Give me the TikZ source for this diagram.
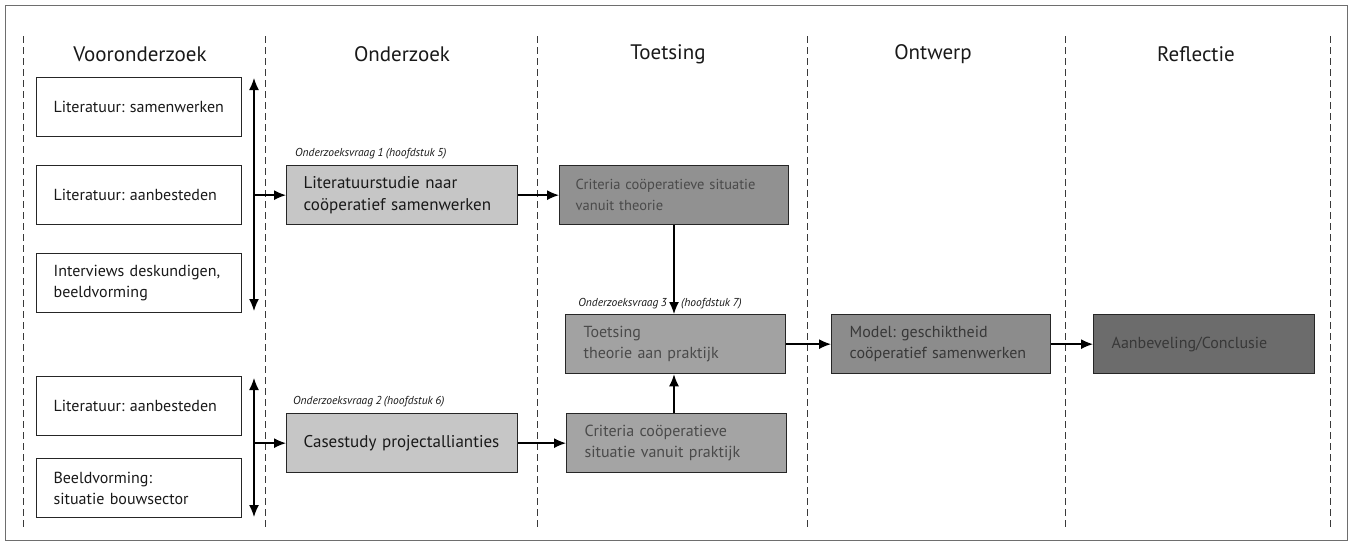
\documentclass[tikz,border=0pt]{standalone}
\usepackage{fontspec}
\setmainfont{PT Sans}[WordSpace=0.8]
\usetikzlibrary{arrows.meta}
\definecolor{framegray}{HTML}{6E6E6E}
\definecolor{dashgray}{HTML}{3A3A3A}
\definecolor{filllight}{HTML}{C6C6C6}
\definecolor{fillcrit}{HTML}{919191}
\definecolor{filltoets}{HTML}{A2A2A2}
\definecolor{fillprak}{HTML}{A4A4A4}
\definecolor{fillmodel}{HTML}{8C8C8C}
\definecolor{fillaanb}{HTML}{6C6C6C}
\definecolor{txtdim}{HTML}{4A4A4A}
\definecolor{txtdark}{HTML}{383838}
\hyphenpenalty=10000
\exhyphenpenalty=10000
\frenchspacing
\begin{document}
\begin{tikzpicture}[x=1pt,y=-1pt,
  heading/.style={font=\fontsize{21}{23}\selectfont, text=black!90, anchor=center},
  boxnode/.style={draw=black!85, line width=1.3pt, minimum height=59pt, inner xsep=16pt,
    inner ysep=2pt, align=left, anchor=north west, font=\fontsize{16}{21}\selectfont, text=black!90},
  bigtxt/.style={font=\fontsize{17}{22}\selectfont},
  rq/.style={font=\fontsize{11.5}{13}\selectfont\itshape, text=black!90, inner sep=0pt},
  divider/.style={dashgray, line width=0.8pt, dash pattern=on 7pt off 4pt},
  arr/.style={-{Latex[length=12pt,width=10pt]}, line width=1.4pt, black},
  dblarr/.style={{Latex[length=12pt,width=10pt]}-{Latex[length=12pt,width=10pt]}, line width=1.4pt, black}
]
\useasboundingbox (0,0) rectangle (1352,547);
\draw[framegray, line width=1pt] (5,5) rectangle (1347,540);

% column dividers
\foreach \xx/\nm in {23/d0,265/d1,537/d2,807/d3,1065/d4,1330/d5}{
  \coordinate (\nm t) at (\xx,36);
  \coordinate (\nm b) at (\xx,530);
  \draw[divider] (\nm t) -- (\nm b);
}

% headings
\node[heading] (h1) at (140,54) {Vooronderzoek};
\node[heading] (h2) at (402,54) {Onderzoek};
\node[heading] (h3) at (668,54) {Toetsing};
\node[heading] (h4) at (933,54) {Ontwerp};
\node[heading] (h5) at (1196,54) {Reflectie};

% left column boxes
\node[boxnode, inner xsep=17pt, text width=171pt] (b1) at (36,77) {Literatuur: samenwerken};
\node[boxnode, inner xsep=17pt, text width=171pt] (b2) at (36,165) {Literatuur: aanbesteden};
\node[boxnode, inner xsep=17pt, text width=171pt] (b3) at (36,253) {Interviews deskundigen,\\beeldvorming};
\node[boxnode, inner xsep=17pt, text width=171pt] (b4) at (36,376) {Literatuur: aanbesteden};
\node[boxnode, inner xsep=17pt, text width=171pt] (b5) at (36,458) {Beeldvorming:\\situatie bouwsector};

% research boxes
\node[boxnode, bigtxt, fill=filllight, inner xsep=17pt, text width=197pt] (lit) at (286,165) {Literatuurstudie naar\\coöperatief samenwerken};
\node[boxnode, bigtxt, fill=filllight, inner xsep=17pt, text width=197pt] (case) at (286,413) {Casestudy projectallianties};
\node[rq, anchor=base west] (rq1) at (295,156) {Onderzoeksvraag 1 (hoofdstuk 5)};
\node[rq, anchor=base west] (rq2) at (293,404) {Onderzoeksvraag 2 (hoofdstuk 6)};

% toetsing boxes
\node[boxnode, fill=fillcrit, text=txtdim, font=\fontsize{14.5}{21}\selectfont, inner xsep=16pt, text width=197pt] (crt) at (559,165) {Criteria coöperatieve situatie\\vanuit theorie};
\node[boxnode, fill=filltoets, text=txtdim, inner xsep=18pt, text width=184pt] (toets) at (565,314) {Toetsing\\theorie aan praktijk};
\node[boxnode, fill=fillprak, text=txtdim, inner xsep=18pt, text width=184pt] (crp) at (566,413) {Criteria coöperatieve\\situatie vanuit praktijk};

% design / reflection
\node[boxnode, fill=fillmodel, text=txtdark, inner xsep=18pt, text width=183pt] (model) at (831,314) {Model: geschiktheid\\coöperatief samenwerken};
\node[boxnode, fill=fillaanb, text=txtdark, inner xsep=18pt, text width=185pt] (aanb) at (1093,314) {Aanbeveling/Conclusie};

% left collector arrows
\coordinate (v1t) at (254,78);
\coordinate (v1b) at (254,311);
\coordinate (v2t) at (254,378);
\coordinate (v2b) at (254,517);
\draw[dblarr] (v1t) -- (v1b);
\draw[dblarr] (v2t) -- (v2b);
\coordinate (j1) at (lit.west -| v1t);
\coordinate (j2) at (case.west -| v2t);
\draw[arr] (j1) -- (lit.west);
\draw[arr] (j2) -- (case.west);

% flow arrows
\draw[arr] (lit.east) -- (crt.west);
\draw[arr] (case.east) -- (crp.west);
\coordinate (ct) at (674,0);
\draw[arr] (crt.south -| ct) -- (toets.north -| ct);
\draw[arr] (crp.north -| ct) -- (toets.south -| ct);
\draw[arr] (toets.east) -- (model.west);
\draw[arr] (model.east) -- (aanb.west);

\node[rq, anchor=base east] (rq3a) at (667,306) {Onderzoeksvraag 3};
\node[rq, anchor=base west] (rq3b) at (681,306) {(hoofdstuk 7)};
\end{tikzpicture}
\end{document}
